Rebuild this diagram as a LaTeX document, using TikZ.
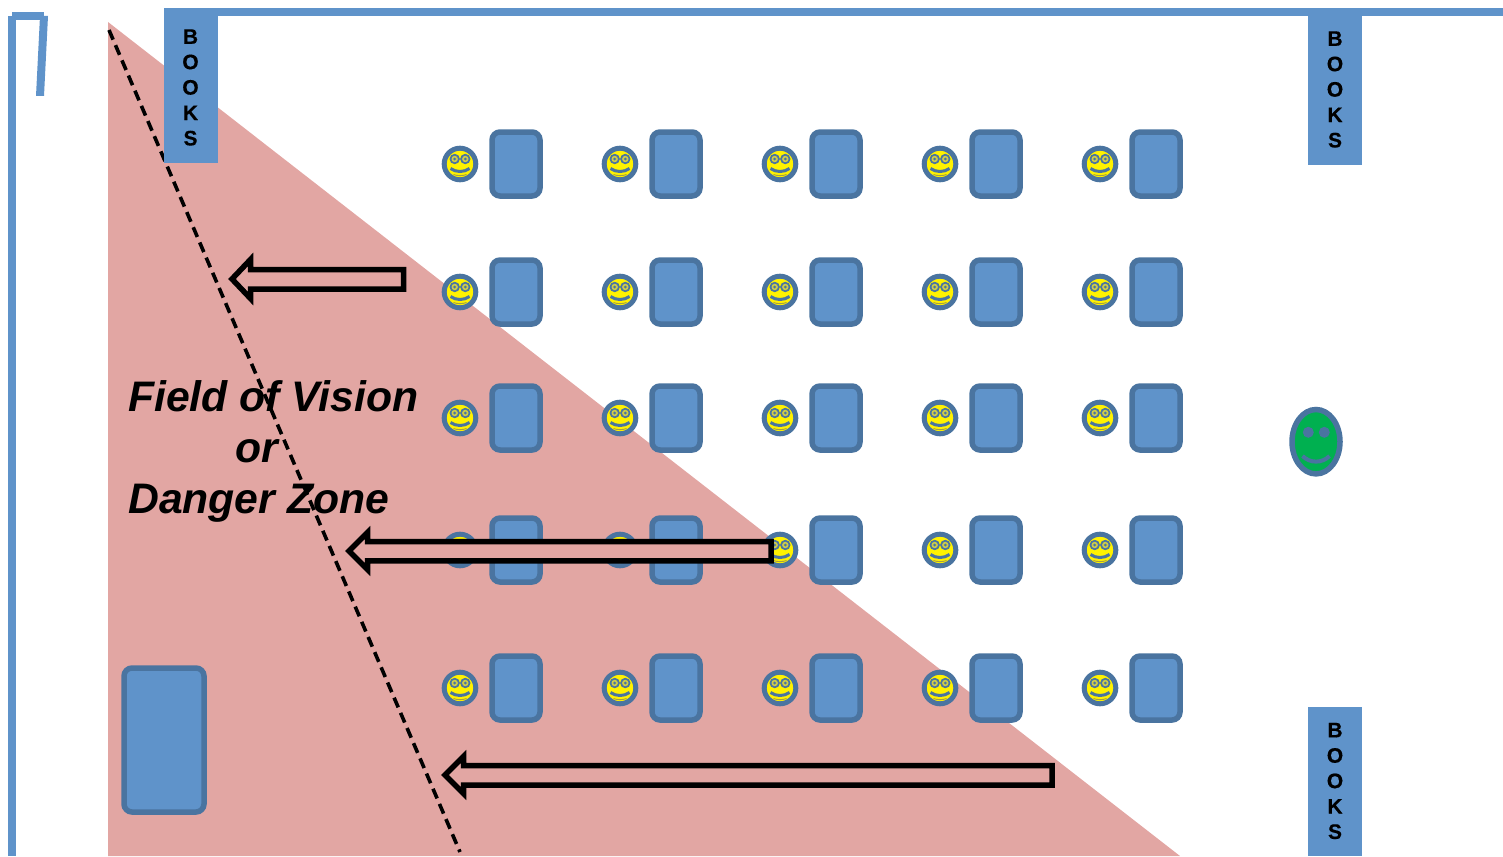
\documentclass[tikz,border=0pt]{standalone}
\usepackage{fontspec}
\setmainfont{Liberation Sans}
\newfontfamily\shelffont[FakeBold=0.4]{Liberation Sans Bold}
\usetikzlibrary{calc}
\definecolor{roomblue}{HTML}{5F93CA}
\definecolor{rimblue}{HTML}{4A74A0}
\definecolor{zonepink}{HTML}{E2A6A3}
\definecolor{facegreen}{HTML}{00B050}
\tikzset{
	bookshelf/.style={fill=roomblue, draw=none},
	bookword/.style={font=\fontsize{21}{25.4}\selectfont\shelffont, align=center, inner sep=0pt},
	zoneword/.style={font=\fontsize{42.7}{50}\selectfont\bfseries\itshape, anchor=base west, inner sep=0pt},
	desk/.style={fill=roomblue, draw=rimblue, line width=5.5pt, rounded corners=8pt},
	flatarrow/.style={fill=zonepink, draw=black, line width=5.5pt, miter limit=10}
}
% one pupil: smiling face at (x,y)
\def\pupil(#1,#2){
	\draw[fill=yellow, draw=rimblue, line width=5pt] (#1, #2) circle (15.8);
	\fill[rimblue] (#1-5.3, #2-5) circle (5.2);
	\fill[rimblue] (#1+5.3, #2-5) circle (5.2);
	\fill[yellow!70!rimblue] (#1-5.3, #2-5) circle (3.2);
	\fill[yellow!70!rimblue] (#1+5.3, #2-5) circle (3.2);
	\fill[rimblue] (#1-5.3, #2-5) circle (1.5);
	\fill[rimblue] (#1+5.3, #2-5) circle (1.5);
	\draw[rimblue, line width=3pt] (#1-9.5, #2+4.5) .. controls (#1-4, #2+8.5) and (#1+4, #2+8.5) .. (#1+9.5, #2+4.5);
	\draw[yellow!60!black, line width=0.9pt] (#1-6.5, #2+10.5) .. controls (#1-3, #2+12) and (#1+3, #2+12) .. (#1+6.5, #2+10.5);
}
\begin{document}
\begin{tikzpicture}[x=1pt, y=-1pt]
	\useasboundingbox (0, 0) rectangle (1503, 856);
	
	% walls
	\fill[roomblue] (8, 16) rectangle (16, 856);
	\fill[roomblue] (12, 12) rectangle (44, 20);
	\fill[roomblue] (40, 16) -- (48, 16) -- (44, 96) -- (36, 96) -- cycle;
	\fill[roomblue] (164, 8) rectangle (1503, 16);
	
	% the zone
	\fill[zonepink] (108, 22) -- (1180, 856) -- (108, 856) -- cycle;
	\draw[line width=3.6pt, dash pattern=on 10.5pt off 6pt] (109, 30) -- (460, 852);
	
	% shelves
	\fill[bookshelf] (164, 8) rectangle (218, 163);
	\fill[bookshelf] (1308, 16) rectangle (1362, 165);
	\fill[bookshelf] (1308, 707) rectangle (1362, 856);
	\node[bookword] (shelfleft) at (190.5, 87.5) {B\\O\\O\\K\\S};
	\node[bookword] (shelfright) at (1335, 89.5) {B\\O\\O\\K\\S};
	\node[bookword] (shelfbottom) at (1335, 781) {B\\O\\O\\K\\S};
	
	% pupils and desks
	\foreach \y in {164, 292, 418, 550, 688}
		\foreach \x in {460, 620, 780, 940, 1100}{
			\pupil(\x,\y)
			\draw[desk] (\x+32, \y-32) rectangle (\x+80, \y+32);
		}
	
	% teacher
	\draw[desk] (124, 668) rectangle (204, 812);
	\draw[fill=facegreen, draw=rimblue, line width=5.5pt] (1316, 441.7) ellipse (24 and 32.2);
	\fill[rimblue] (1308.3, 432.3) circle (5.5);
	\fill[rimblue] (1324.3, 432.3) circle (5.5);
	\draw[rimblue, line width=4pt] (1302.5, 456) .. controls (1310, 463.5) and (1322, 463.5) .. (1329.5, 456);
	
	% arrows
	\draw[flatarrow] (403.5, 269.5) -- (250.5, 269.5) -- (250.5, 259.5) -- (232, 279) -- (250.5, 298.5) -- (250.5, 289) -- (403.5, 289) -- cycle;
	\draw[flatarrow] (771, 541.5) -- (367.5, 541.5) -- (367.5, 532.5) -- (349, 551) -- (367.5, 569.5) -- (367.5, 560.8) -- (771, 560.8) -- cycle;
	\draw[flatarrow] (1052, 765.5) -- (463.5, 765.5) -- (463.5, 756.5) -- (445, 775) -- (463.5, 793.5) -- (463.5, 785) -- (1052, 785) -- cycle;
	
	\node[zoneword] (zonefield) at (128, 411) {Field of Vision};
	\node[zoneword] (zoneor) at (235, 462) {or};
	\node[zoneword] (zonedanger) at (128, 513) {Danger Zone};
\end{tikzpicture}
\end{document}
